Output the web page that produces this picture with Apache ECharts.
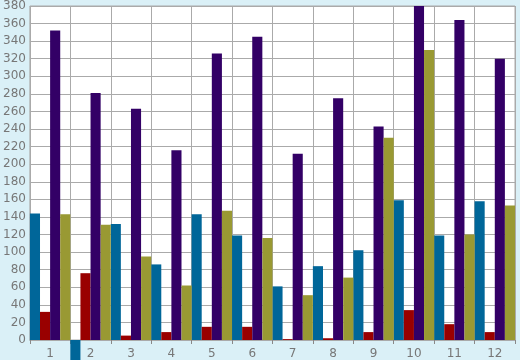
<!DOCTYPE html>
<html><head><meta charset="utf-8">
<script src="https://cdn.jsdelivr.net/npm/echarts@6/dist/echarts.min.js"></script>
<style>html,body{margin:0;padding:0;background:#daf0f7;}#c{width:520px;height:360px;}</style>
</head><body><div id="c"></div>
<script>
var categories = ['1','2','3','4','5','6','7','8','9','10','11','12'];
var blueValues = [144, -40, 132, 86, 143, 119, 61, 84, 102, 159, 119, 158];
var redValues = [32, 76, 5, 9, 15, 15, 1, 2, 9, 34, 18, 9];
var purpleValues = [352, 281, 263, 216, 326, 345, 212, 275, 243, 380, 364, 320];
var oliveValues = [143, 131, 95, 62, 147, 116, 51, 71, 230, 330, 120, 153];
var yMin = 0, yMax = 380, yStep = 20;

var chart = echarts.init(document.getElementById('c'));
function s(name, data, color){
  return {name:name, type:'bar', data:data, itemStyle:{color:color}, barGap:'0%', barCategoryGap:'0%', clip:false};
}
chart.setOption({
  animation:false,
  backgroundColor:'#daf0f7',
  grid:{left:26, right:5, top:5, bottom:20, show:true, backgroundColor:'#ffffff', borderColor:'#aaaaaa', borderWidth:1},
  xAxis:{type:'category', data:categories,
    axisLine:{lineStyle:{color:'#aaaaaa'}},
    axisTick:{show:true, length:4, lineStyle:{color:'#888888'}},
    splitLine:{show:true, lineStyle:{color:'#aaaaaa', width:1}},
    axisLabel:{color:'#777777', fontFamily:'DejaVu Sans', fontSize:12, margin:8}},
  yAxis:{type:'value', min:yMin, max:yMax, interval:yStep,
    axisLine:{show:false}, axisTick:{show:false},
    splitLine:{lineStyle:{color:'#aaaaaa', width:1}},
    axisLabel:{color:'#777777', fontFamily:'DejaVu Sans', fontSize:12, margin:4}},
  series:[
    s('A', blueValues, '#006699'),
    s('B', redValues, '#990000'),
    s('C', purpleValues, '#330066'),
    s('D', oliveValues, '#999933')
  ]
});
</script></body></html>
